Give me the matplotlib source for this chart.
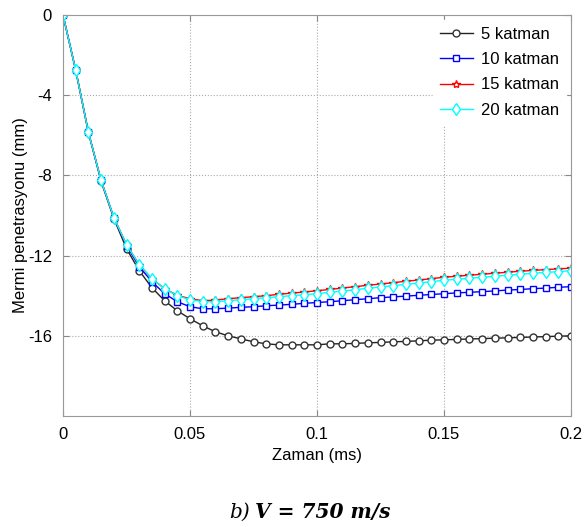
import numpy as np
import matplotlib.pyplot as plt

zaman = np.arange(41) * 0.005  # ms

katman5 = [0, -2.75, -5.85, -8.3, -10.15, -11.65, -12.75, -13.6, -14.25, -14.75,
           -15.15, -15.5, -15.8, -16.0, -16.15, -16.3, -16.4, -16.45, -16.45, -16.45,
           -16.45, -16.4, -16.4, -16.38, -16.35, -16.33, -16.3, -16.28, -16.25, -16.22,
           -16.2, -16.18, -16.16, -16.14, -16.12, -16.1, -16.08, -16.06, -16.04, -16.02,
           -16.0]
katman10 = [0, -2.75, -5.85, -8.25, -10.1, -11.5, -12.55, -13.3, -13.9, -14.3,
            -14.55, -14.65, -14.65, -14.62, -14.58, -14.55, -14.5, -14.47, -14.43, -14.38,
            -14.34, -14.3, -14.25, -14.2, -14.15, -14.1, -14.06, -14.02, -13.98, -13.94,
            -13.9, -13.86, -13.83, -13.8, -13.76, -13.72, -13.69, -13.65, -13.62, -13.58,
            -13.55]
katman15 = [0, -2.75, -5.85, -8.25, -10.1, -11.45, -12.45, -13.15, -13.65, -13.98,
            -14.15, -14.25, -14.22, -14.15, -14.1, -14.05, -14.0, -13.93, -13.87, -13.82,
            -13.75, -13.69, -13.62, -13.55, -13.48, -13.42, -13.35, -13.28, -13.22, -13.15,
            -13.08, -13.03, -12.98, -12.93, -12.88, -12.83, -12.78, -12.74, -12.7, -12.66,
            -12.63]
katman20 = [0, -2.75, -5.85, -8.25, -10.1, -11.45, -12.45, -13.15, -13.65, -14.0,
            -14.2, -14.3, -14.3, -14.25, -14.2, -14.15, -14.1, -14.05, -14.0, -13.95,
            -13.9, -13.83, -13.77, -13.7, -13.63, -13.56, -13.5, -13.43, -13.37, -13.3,
            -13.23, -13.18, -13.13, -13.08, -13.03, -12.98, -12.93, -12.88, -12.84, -12.8,
            -12.75]

plt.rcParams['font.family'] = ['Liberation Sans', 'DejaVu Sans']
plt.rcParams['axes.unicode_minus'] = False

fig = plt.figure(figsize=(5.87, 5.27), dpi=100)
ax = fig.add_axes([63/587, 111/527, 508/587, 401/527])

ax.plot(zaman, katman5, color='#222222', lw=1, marker='o', ms=5, mfc='white', mec='#333333', label='5 katman')
ax.plot(zaman, katman10, color='blue', lw=1, marker='s', ms=5, mfc='white', mec='blue', label='10 katman')
ax.plot(zaman, katman15, color='red', lw=1, marker='*', ms=6, mfc='white', mec='red', label='15 katman')
ax.plot(zaman, katman20, color='cyan', lw=1, marker='d', ms=6, mfc='white', mec='cyan', label='20 katman')

ax.set_xlim(0, 0.2)
ax.set_ylim(-20, 0)
ax.set_xticks([0, 0.05, 0.1, 0.15, 0.2])
ax.set_xticklabels(['0', '0.05', '0.1', '0.15', '0.2'])
ax.set_yticks([-16, -12, -8, -4, 0])
ax.tick_params(direction='in', length=4, color='#888888', labelsize=12, top=True, right=True, pad=8)
for s in ax.spines.values():
    s.set_color('#999999')
ax.grid(True, linestyle=':', color='#aaaaaa', lw=0.8)

ax.set_xlabel('Zaman (ms)', fontsize=12, labelpad=4)
ax.set_ylabel('Mermi penetrasyonu (mm)', fontsize=12, labelpad=0)

leg = ax.legend(loc='upper right', fontsize=12, frameon=True, fancybox=False,
                edgecolor='white', facecolor='white', framealpha=1,
                handlelength=2.0, handletextpad=0.5, labelspacing=0.62, borderaxespad=0.3)

fig.text(0.426, 0.018, 'b)', fontsize=14.5, family='DejaVu Serif', style='italic', ha='right', va='baseline')
fig.text(0.435, 0.018, 'V = 750 m/s', fontsize=14.5, family='DejaVu Serif', style='italic',
         weight='bold', ha='left', va='baseline')

fig.savefig('out.png', dpi=100)
